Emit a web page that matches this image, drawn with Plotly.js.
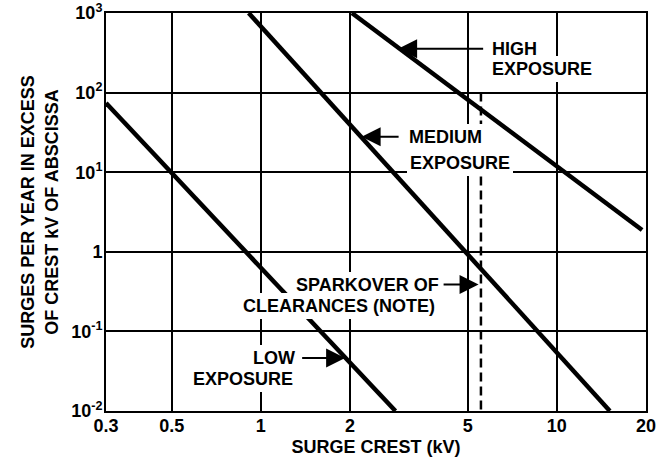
<!DOCTYPE html>
<html>
<head>
<meta charset="utf-8">
<script src="https://cdn.plot.ly/plotly-3.0.1.min.js"></script>
<style>html,body{margin:0;padding:0;background:#fff;}#chart{width:660px;height:460px;}</style>
</head>
<body>
<div id="chart"></div>
<script>
// ---- data ----
var lowX = [0.3, 2.85];
var lowY = [74, 0.01];
var mediumX = [0.91, 15.1];
var mediumY = [1000, 0.01];
var highX = [2.03, 19.4];
var highY = [1000, 1.88];
var sparkX = [5.54, 5.54];
var sparkY = [100, 0.01];

var xTickVals = [0.3, 0.5, 1, 2, 5, 10, 20];
var xTickText = ['0.3', '0.5', '1', '2', '5', '10', '20'];
var yTickVals = [0.01, 0.1, 1, 10, 100, 1000];
var yTickText = ['10<sup>-2</sup>', '10<sup>-1</sup>', '1', '10<sup>1</sup>', '10<sup>2</sup>', '10<sup>3</sup>'];

var FONT = 'Liberation Sans, Arial, Helvetica, sans-serif';
var TXT = {family: FONT, size: 18, color: '#000', weight: 'bold'};

function curve(x, y) {
  return {x: x, y: y, type: 'scatter', mode: 'lines',
          line: {color: '#000', width: 4.5}, hoverinfo: 'skip', showlegend: false};
}

var traces = [
  curve(lowX, lowY),
  curve(mediumX, mediumY),
  curve(highX, highY),
  {x: sparkX, y: sparkY, type: 'scatter', mode: 'lines',
   line: {color: '#000', width: 2.5, dash: '9px,5px'}, hoverinfo: 'skip', showlegend: false}
];

function label(text, x, y, xanchor) {
  return {text: text, x: Math.log10(x), y: Math.log10(y), xref: 'x', yref: 'y',
          xanchor: xanchor, yanchor: 'middle', showarrow: false,
          bgcolor: '#fff', borderpad: 3, borderwidth: 0, font: TXT};
}
// label whose arrow points at (x, y); the text box sits ax px away
function arrowLabel(text, x, y, ax, xanchor, gap) {
  return {text: text, x: Math.log10(x), y: Math.log10(y), xref: 'x', yref: 'y',
          ax: ax, ay: 0, xanchor: xanchor, yanchor: 'middle',
          showarrow: true, arrowhead: 2, arrowsize: 1.9, arrowwidth: 2,
          arrowcolor: '#000', standoff: 0, startstandoff: gap,
          bgcolor: '#fff', borderpad: 3, borderwidth: 0, font: TXT};
}

var annotations = [
  arrowLabel('HIGH', 2.91, 356, 91, 'left', 6),
  label('EXPOSURE', 5.90, 198, 'left'),
  arrowLabel('MEDIUM', 2.19, 27.9, 44, 'left', 7),
  label('EXPOSURE', 3.12, 13.1, 'left'),
  arrowLabel('SPARKOVER OF', 5.44, 0.388, -37, 'right', 2),
  label('CLEARANCES (NOTE)', 3.97, 0.2085, 'right'),
  arrowLabel('LOW', 1.927, 0.0463, -47, 'right', 4),
  label('EXPOSURE', 1.316, 0.0256, 'right')
];

var layout = {
  width: 660, height: 460,
  margin: {l: 106, r: 14, t: 13, b: 49, pad: 0},
  paper_bgcolor: '#fff', plot_bgcolor: '#fff',
  font: TXT,
  showlegend: false,
  xaxis: {
    type: 'log', range: [Math.log10(0.3), Math.log10(20)],
    tickvals: xTickVals, ticktext: xTickText, ticks: '', ticklabelstandoff: -3,
    showgrid: true, gridcolor: '#000', gridwidth: 2,
    showline: true, linecolor: '#000', linewidth: 2, mirror: true,
    zeroline: false, automargin: false,
    tickfont: TXT,
    title: {text: 'SURGE CREST (kV)', standoff: 6, font: TXT}
  },
  yaxis: {
    type: 'log', range: [-2, 3],
    tickvals: yTickVals, ticktext: yTickText, ticks: '', ticklabelstandoff: -2,
    showgrid: true, gridcolor: '#000', gridwidth: 2,
    showline: true, linecolor: '#000', linewidth: 2, mirror: true,
    zeroline: false, automargin: false,
    tickfont: TXT,
    title: {text: 'SURGES PER YEAR IN EXCESS<br>OF CREST kV OF ABSCISSA', standoff: 8, font: TXT}
  },
  annotations: annotations
};

Plotly.newPlot('chart', traces, layout, {staticPlot: true, displayModeBar: false});
</script>
</body>
</html>
